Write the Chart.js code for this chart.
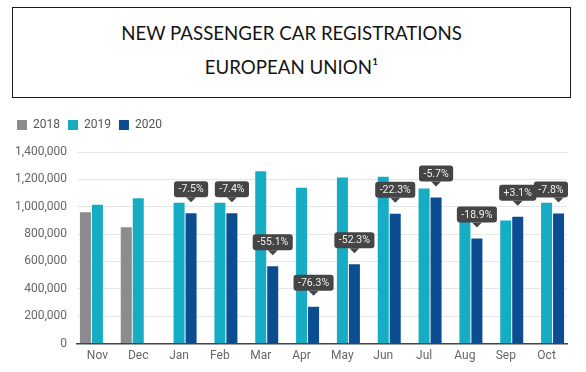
<!DOCTYPE html>
<html>
<head>
<meta charset="utf-8">
<script src="https://cdn.jsdelivr.net/npm/chart.js@4.4.0/dist/chart.umd.min.js"></script>
<style>
  html, body { margin: 0; padding: 0; background: #fff; }
  body { width: 586px; height: 372px; position: relative; overflow: hidden; }
  .title-box {
    position: absolute; left: 12px; top: 7px; width: 559px; height: 91px;
    box-sizing: border-box; border: 1.5px solid #1a1a1a;
    font-family: Lato, "Open Sans", sans-serif; font-size: 18.7px; color: #141414;
    text-align: center; line-height: 34px; padding-top: 8px;
  }
  .chart-wrap { position: absolute; left: 0; top: 100px; width: 586px; height: 272px; }
</style>
</head>
<body>
<div class="title-box">
  <div>NEW PASSENGER CAR REGISTRATIONS</div>
  <div>EUROPEAN UNION¹</div>
</div>
<div class="chart-wrap"><canvas id="regChart"></canvas></div>
<script>
// Data
const months = ["Nov", "Dec", "Jan", "Feb", "Mar", "Apr", "May", "Jun", "Jul", "Aug", "Sep", "Oct"];
const regs2018 = [960000, 850000, null, null, null, null, null, null, null, null, null, null];
const regs2019 = [1015000, 1062000, 1030000, 1030000, 1259000, 1138000, 1213000, 1220000, 1133000, 947000, 899000, 1030000];
const regs2020 = [null, null, 952000, 952000, 566000, 270000, 579000, 948000, 1068000, 768000, 927000, 950000];
const changeLabels = ["", "", "-7.5%", "-7.4%", "-55.1%", "-76.3%", "-52.3%", "-22.3%", "-5.7%", "-18.9%", "+3.1%", "-7.8%"];
const yTicks = [0, 200000, 400000, 600000, 800000, 1000000, 1200000, 1400000];

// Extra space under the legend
const legendGap = {
  id: "legendGap",
  beforeInit(chart) {
    const fit = chart.legend.fit;
    chart.legend.fit = function () {
      fit.bind(chart.legend)();
      this.height += 11;
    };
  },
};

// Dark callout boxes above the 2020 bars
const changeCallouts = {
  id: "changeCallouts",
  afterDatasetsDraw(chart) {
    const { ctx, chartArea } = chart;
    const meta = chart.getDatasetMeta(2);
    ctx.save();
    ctx.font = "10.5px Roboto";
    meta.data.forEach((bar, i) => {
      const text = changeLabels[i];
      if (!text) return;
      const w = ctx.measureText(text).width + 9;
      const h = 16;
      const tipY = bar.y - 11;
      const top = tipY - 5 - h;
      let left = bar.x - w / 2;
      left = Math.min(left, chartArea.right + 1 - w);
      ctx.fillStyle = "#454545";
      ctx.beginPath();
      ctx.roundRect(left, top, w, h, 3);
      ctx.fill();
      ctx.beginPath();
      ctx.moveTo(bar.x - 5, top + h);
      ctx.lineTo(bar.x, tipY);
      ctx.lineTo(bar.x + 5, top + h);
      ctx.closePath();
      ctx.fill();
      ctx.fillStyle = "#f0f0f0";
      ctx.textAlign = "center";
      ctx.textBaseline = "middle";
      ctx.fillText(text, left + w / 2, top + h / 2 + 0.5);
    });
    ctx.restore();
  },
};

const ctx = document.getElementById("regChart").getContext("2d");

const chart = new Chart(ctx, {
  type: "bar",
  data: {
    labels: months,
    datasets: [
      { label: "2018", data: regs2018, backgroundColor: "#8b8c90" },
      { label: "2019", data: regs2019, backgroundColor: "#16adc4" },
      { label: "2020", data: regs2020, backgroundColor: "#0c4d92" },
    ],
  },
  options: {
    responsive: true,
    maintainAspectRatio: false,
    animation: false,
    categoryPercentage: 0.88,
    barPercentage: 0.92,
    layout: {
      padding: { top: 11, left: 9, right: 19, bottom: 4 },
    },
    scales: {
      x: {
        grid: { display: false, drawTicks: false },
        border: { display: true, color: "#444", width: 1.5 },
        ticks: {
          padding: 5,
          color: "#666",
          font: { family: "Roboto", size: 12 },
        },
      },
      y: {
        min: 0,
        max: 1400000,
        afterFit: (scale) => {
          scale.width = 68;
        },
        afterBuildTicks: (scale) => {
          scale.ticks = yTicks.map((v) => ({ value: v }));
        },
        grid: { color: "#e6e6e6", drawTicks: false },
        border: { display: false },
        ticks: {
          padding: 10,
          color: "#666",
          font: { family: "Roboto", size: 12 },
          callback: (value) => value.toLocaleString("en-US"),
        },
      },
    },
    plugins: {
      legend: {
        position: "top",
        align: "start",
        labels: {
          boxWidth: 10,
          boxHeight: 10,
          padding: 8,
          color: "#555",
          font: { family: "Roboto", size: 12 },
        },
      },
      tooltip: { enabled: false },
    },
  },
  plugins: [legendGap, changeCallouts],
});
</script>
</body>
</html>
